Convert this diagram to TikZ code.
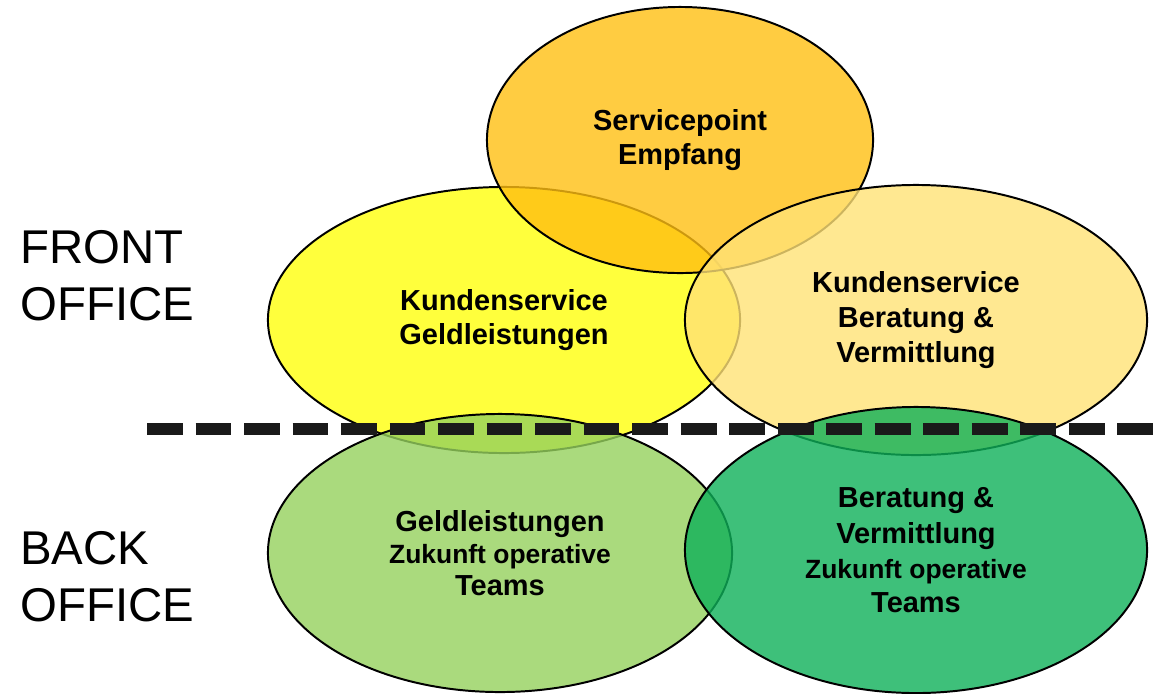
\documentclass[tikz,border=0pt]{standalone}
\usepackage{fontspec}
\setmainfont{Liberation Sans}
\usetikzlibrary{shapes.geometric}
\definecolor{kgYellow}{RGB}{255,255,11}
\definecolor{spOrange}{RGB}{255,191,18}
\definecolor{kbYellow}{RGB}{255,226,118}
\definecolor{glGreen}{RGB}{149,209,93}
\definecolor{bvGreen}{RGB}{14,176,89}
\definecolor{dashGrey}{RGB}{26,26,26}
\newcommand{\smalltxt}{\fontsize{18.8}{24.3}\selectfont}
\begin{document}
\begin{tikzpicture}[x=0.025cm,y=-0.025cm]
            \useasboundingbox (0,0) rectangle (1169,693);
            \begin{scope}[every node/.style={ellipse,draw=black,line width=1.4pt,fill opacity=.8,text opacity=1,inner sep=0pt,align=center,font=\fontsize{20.6}{24.3}\selectfont\bfseries}]
            \node[fill=kgYellow,minimum width=11.8cm,minimum height=6.65cm] (KG) at (504,320) {Kundenservice\\Geldleistungen};
            \node[fill=spOrange,minimum width=9.65cm,minimum height=6.65cm] (SP) at (680,140) {Servicepoint\\Empfang};
            \node[fill=kbYellow,minimum width=11.55cm,minimum height=6.75cm] (KB) at (916,320) {Kundenservice\\[.5pt]Beratung \&\\[.5pt]Vermittlung};
            \node[fill=glGreen,minimum width=11.6cm,minimum height=6.95cm] (GL) at (500,553) {Geldleistungen\\[-2pt]\smalltxt Zukunft operative\\[-1.5pt]Teams};
            \node[fill=bvGreen,minimum width=11.55cm,minimum height=7.15cm] (BV) at (916,550) {Beratung \&\\[1pt]Vermittlung\\[.5pt]\smalltxt Zukunft operative\\Teams};
            \end{scope}
            % Trennlinie Front / Back Office
            \coordinate (L) at (147,429);
            \coordinate (R) at (1157,429);
            \draw[dashGrey,line width=8.5pt,dash pattern=on 25.5pt off 9pt] (L) -- (R);
            \node[anchor=west,align=left,inner sep=0pt,font=\fontsize{33.7}{40.4}\selectfont] (FO) at (20,276) {FRONT\\OFFICE};
            \node[anchor=west,align=left,inner sep=0pt,font=\fontsize{33.7}{40.4}\selectfont] (BO) at (20,577) {BACK\\OFFICE};
        \end{tikzpicture}
\end{document}
